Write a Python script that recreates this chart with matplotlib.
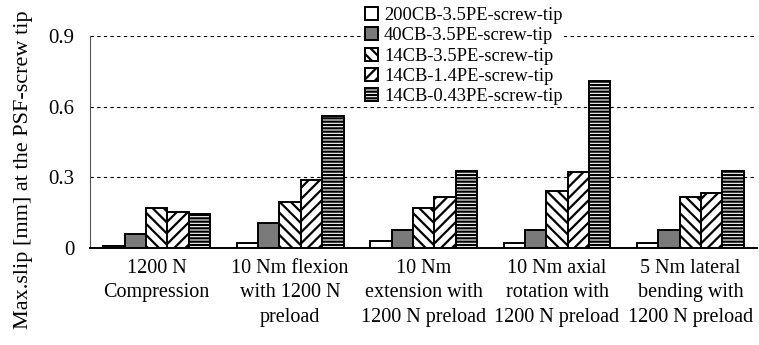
import numpy as np
from matplotlib import pyplot as plt

plt.rcParams['font.family'] = ['Liberation Serif', 'DejaVu Serif']
plt.rcParams['hatch.linewidth'] = 1.6

#%% Data

groups = ['1200 N\nCompression',
          '10 Nm flexion\nwith 1200 N\npreload',
          '10 Nm\nextension with\n1200 N preload',
          '10 Nm axial\nrotation with\n1200 N preload',
          '5 Nm lateral\nbending with\n1200 N preload']

series = ['200CB-3.5PE-screw-tip', '40CB-3.5PE-screw-tip', '14CB-3.5PE-screw-tip',
          '14CB-1.4PE-screw-tip', '14CB-0.43PE-screw-tip']

cb200_35 = [0.010, 0.020, 0.030, 0.020, 0.020]
cb40_35 = [0.058, 0.105, 0.076, 0.076, 0.076]
cb14_35 = [0.168, 0.195, 0.168, 0.240, 0.218]
cb14_14 = [0.152, 0.289, 0.218, 0.324, 0.235]
cb14_043 = [0.143, 0.560, 0.328, 0.710, 0.328]

values = [cb200_35, cb40_35, cb14_35, cb14_14, cb14_043]
faces = ['white', '#7a7a7a', 'white', 'white', 'white']
hatches = ['', '', '\\\\\\', '///', '-----']

#%% Plot

fig = plt.figure(figsize=(7.59, 3.45), dpi=100)
ax = fig.add_axes([0.1186, 0.281, 0.879, 0.615])

x = np.arange(len(groups))
w = 0.16
for i, (vals, name) in enumerate(zip(values, series)):
    ax.bar(x + (i - 2) * w, vals, w, color=faces[i], hatch=hatches[i],
           edgecolor='black', linewidth=1.4, label=name, zorder=3)

ax.set_xlim(-0.5, 4.5)
ax.set_ylim(0, 0.9)
ax.set_yticks([0, 0.3, 0.6, 0.9])
ax.set_yticklabels(['0', '0.3', '0.6', '0.9'], fontsize=15)
ax.set_xticks(x)
ax.set_xticklabels(groups, fontsize=14.5, linespacing=1.38)
ax.tick_params(axis='both', length=0)
ax.tick_params(axis='y', pad=11)
ax.tick_params(axis='x', pad=8)
ax.yaxis.grid(True, linestyle=(0, (3, 3)), color='black', linewidth=0.8)
ax.set_axisbelow(True)

for s in ['top', 'right']:
    ax.spines[s].set_visible(False)
ax.spines['left'].set_color('#555555')
ax.spines['bottom'].set_linewidth(1.4)

ax.set_ylabel('Max.slip [mm] at the PSF-screw tip', fontsize=16)
ax.yaxis.set_label_coords(-0.085, 0.37)

leg = ax.legend(loc='upper left', bbox_to_anchor=(0.41, 1.145), fontsize=13.3,
                frameon=True, facecolor='white', edgecolor='none', framealpha=1,
                handlelength=0.7, handleheight=0.7, handletextpad=0.3,
                labelspacing=0.18, borderpad=0.1, borderaxespad=0)
leg.set_zorder(5)

plt.savefig('out.png', dpi=100)
